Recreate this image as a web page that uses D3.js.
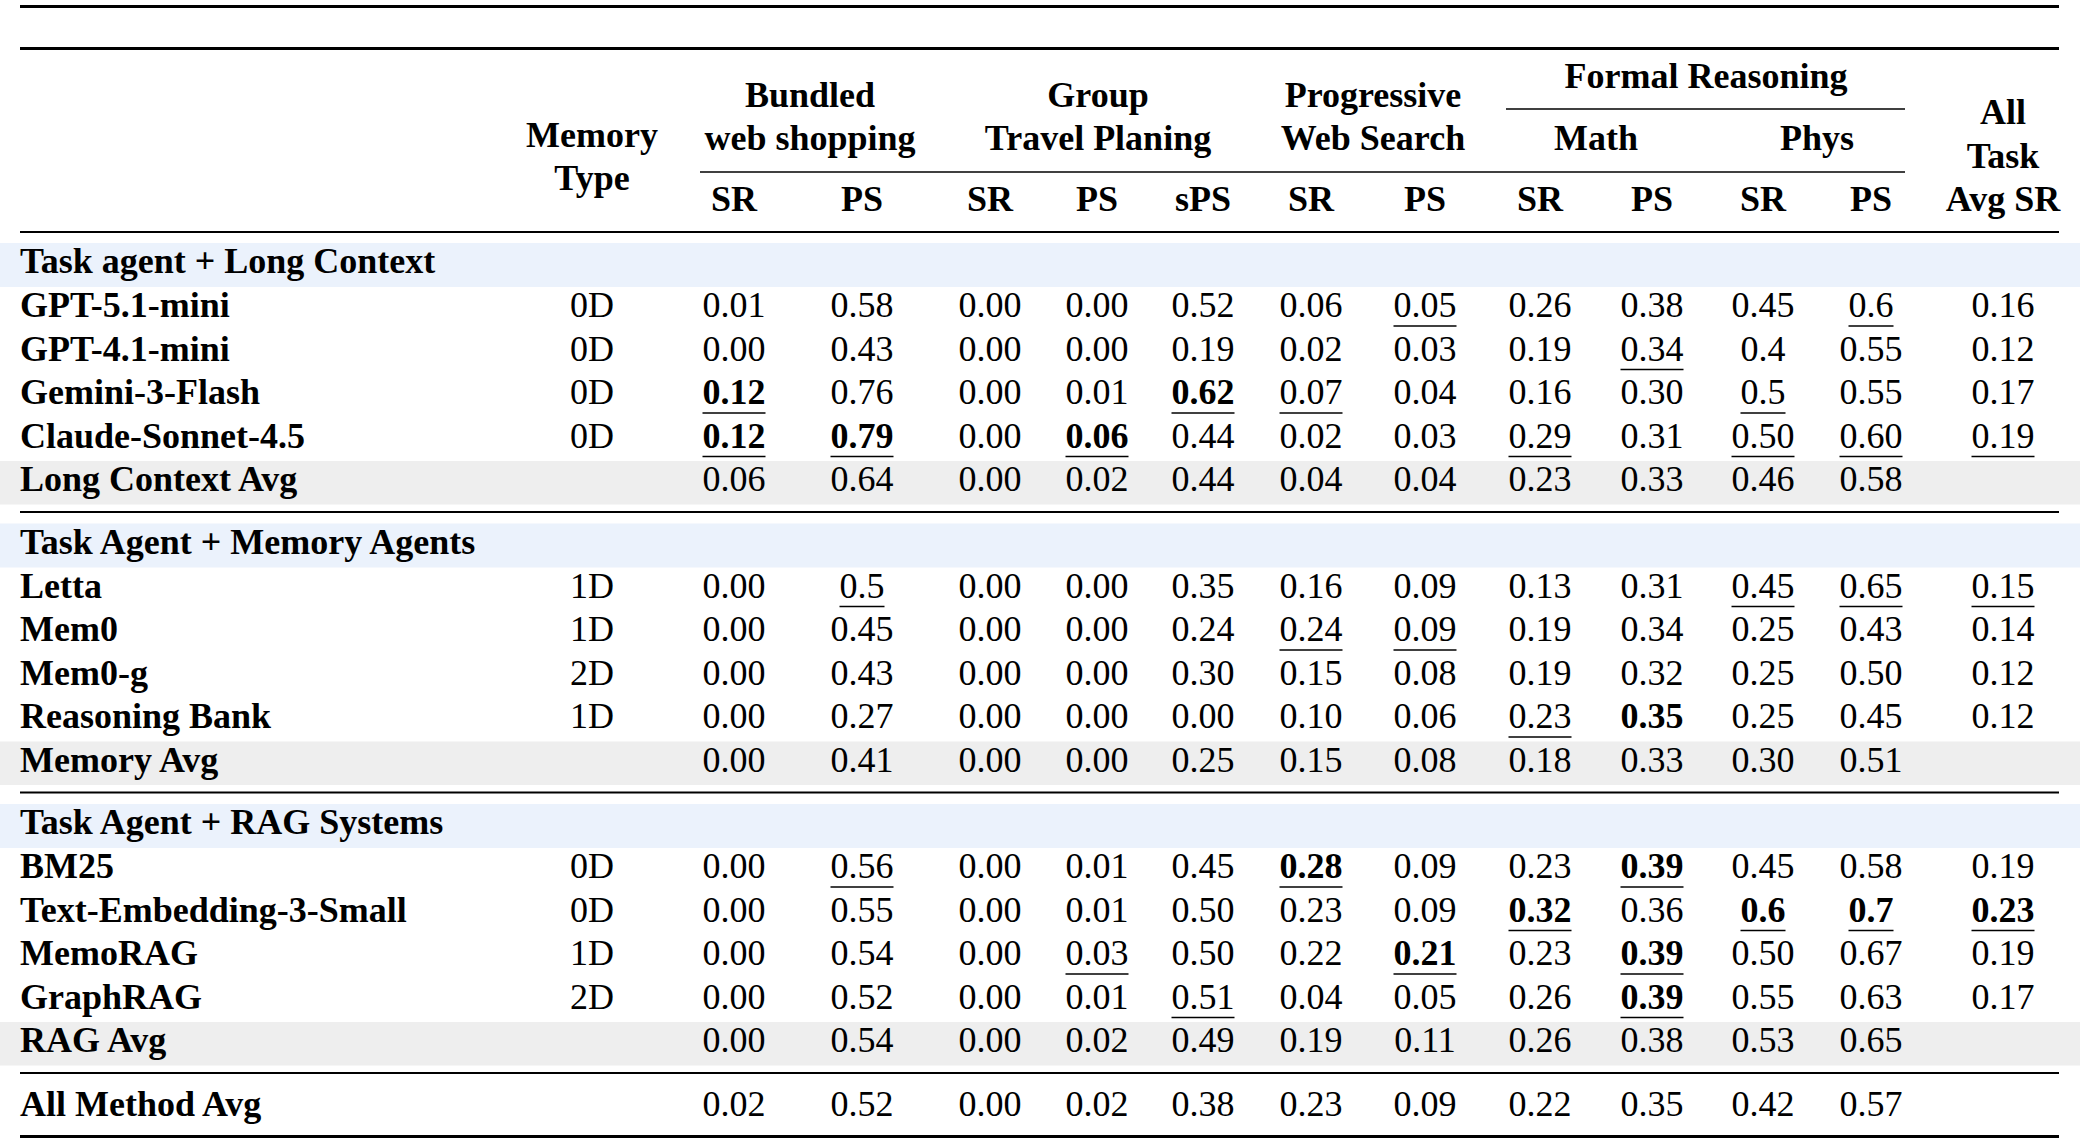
<!DOCTYPE html>
<html><head><meta charset="utf-8">
<script src="https://cdn.jsdelivr.net/npm/d3@7"></script>
<style>
html,body{margin:0;padding:0;background:#fff;}
svg{display:block;}
text{font-family:"Liberation Serif","Times New Roman",serif;font-size:36px;fill:#000;}
</style></head>
<body>
<svg id="c" width="2080" height="1141"></svg>
<script>
// ---------- data ----------
const columns = ["bw_sr","bw_ps","gt_sr","gt_ps","gt_sps","ws_sr","ws_ps","m_sr","m_ps","p_sr","p_ps","all_sr"];
const subHeaders = ["SR","PS","SR","PS","sPS","SR","PS","SR","PS","SR","PS"];
const sections = ["Task agent + Long Context","Task Agent + Memory Agents","Task Agent + RAG Systems"];

const longContextMethods = ["GPT-5.1-mini","GPT-4.1-mini","Gemini-3-Flash","Claude-Sonnet-4.5"];
const longContextTypes = ["0D","0D","0D","0D"];
const longContextValues = [
  ["0.01","0.58","0.00","0.00","0.52","0.06","0.05","0.26","0.38","0.45","0.6","0.16"],
  ["0.00","0.43","0.00","0.00","0.19","0.02","0.03","0.19","0.34","0.4","0.55","0.12"],
  ["0.12","0.76","0.00","0.01","0.62","0.07","0.04","0.16","0.30","0.5","0.55","0.17"],
  ["0.12","0.79","0.00","0.06","0.44","0.02","0.03","0.29","0.31","0.50","0.60","0.19"]
];
const longContextAvg = ["0.06","0.64","0.00","0.02","0.44","0.04","0.04","0.23","0.33","0.46","0.58",""];

const memoryMethods = ["Letta","Mem0","Mem0-g","Reasoning Bank"];
const memoryTypes = ["1D","1D","2D","1D"];
const memoryValues = [
  ["0.00","0.5","0.00","0.00","0.35","0.16","0.09","0.13","0.31","0.45","0.65","0.15"],
  ["0.00","0.45","0.00","0.00","0.24","0.24","0.09","0.19","0.34","0.25","0.43","0.14"],
  ["0.00","0.43","0.00","0.00","0.30","0.15","0.08","0.19","0.32","0.25","0.50","0.12"],
  ["0.00","0.27","0.00","0.00","0.00","0.10","0.06","0.23","0.35","0.25","0.45","0.12"]
];
const memoryAvg = ["0.00","0.41","0.00","0.00","0.25","0.15","0.08","0.18","0.33","0.30","0.51",""];

const ragMethods = ["BM25","Text-Embedding-3-Small","MemoRAG","GraphRAG"];
const ragTypes = ["0D","0D","1D","2D"];
const ragValues = [
  ["0.00","0.56","0.00","0.01","0.45","0.28","0.09","0.23","0.39","0.45","0.58","0.19"],
  ["0.00","0.55","0.00","0.01","0.50","0.23","0.09","0.32","0.36","0.6","0.7","0.23"],
  ["0.00","0.54","0.00","0.03","0.50","0.22","0.21","0.23","0.39","0.50","0.67","0.19"],
  ["0.00","0.52","0.00","0.01","0.51","0.04","0.05","0.26","0.39","0.55","0.63","0.17"]
];
const ragAvg = ["0.00","0.54","0.00","0.02","0.49","0.19","0.11","0.26","0.38","0.53","0.65",""];

const allMethodAvg = ["0.02","0.52","0.00","0.02","0.38","0.23","0.09","0.22","0.35","0.42","0.57",""];
const avgLabels = ["Long Context Avg","Memory Avg","RAG Avg"];

// emphasis: "b" bold, "u" underline, "bu" both  [section, row, column index]
const emphasis = [
  [0,0,6,"u"],[0,0,10,"u"],
  [0,1,8,"u"],
  [0,2,0,"bu"],[0,2,4,"bu"],[0,2,5,"u"],[0,2,9,"u"],
  [0,3,0,"bu"],[0,3,1,"bu"],[0,3,3,"bu"],[0,3,7,"u"],[0,3,9,"u"],[0,3,10,"u"],[0,3,11,"u"],
  [1,0,1,"u"],[1,0,9,"u"],[1,0,10,"u"],[1,0,11,"u"],
  [1,1,5,"u"],[1,1,6,"u"],
  [1,3,7,"u"],[1,3,8,"b"],
  [2,0,1,"u"],[2,0,5,"bu"],[2,0,8,"bu"],
  [2,1,7,"bu"],[2,1,9,"bu"],[2,1,10,"bu"],[2,1,11,"bu"],
  [2,2,3,"u"],[2,2,6,"bu"],[2,2,8,"bu"],
  [2,3,4,"u"],[2,3,8,"bu"]
];

// ---------- scales ----------
const W = 2080, H = 1141;
const svg = d3.select("#c");
const x = d3.scaleOrdinal().domain(columns)
  .range([734,862,990,1097,1203,1311,1425,1540,1652,1763,1871,2003]);
const xLabel = 20, xType = 592;
const ruleL = 20, ruleR = 2059;
const secTop = d3.scaleLinear().domain([0,1]).range([243,523.5]);
const rowY = d3.scaleLinear().domain([0,1]).range([74,117.5]); // baseline offset within section

const methods = [longContextMethods, memoryMethods, ragMethods];
const types = [longContextTypes, memoryTypes, ragTypes];
const values = [longContextValues, memoryValues, ragValues];
const avgs = [longContextAvg, memoryAvg, ragAvg];

function rule(y, w){ svg.append("line").attr("x1",ruleL).attr("x2",ruleR).attr("y1",y).attr("y2",y).attr("stroke","#000").attr("stroke-width",w); }
function txt(xx, y, s, bold, anchor){
  return svg.append("text").attr("x",xx).attr("y",y).attr("text-anchor",anchor||"middle")
    .attr("font-weight",bold?"bold":"normal").text(s);
}

// ---------- header ----------
rule(6.5,3.2);
rule(48.5,3);
rule(232,2);
svg.append("line").attr("x1",700).attr("x2",1905).attr("y1",172).attr("y2",172).attr("stroke","#000").attr("stroke-width",1.4);
svg.append("line").attr("x1",1506).attr("x2",1905).attr("y1",109).attr("y2",109).attr("stroke","#000").attr("stroke-width",1.4);

txt(xType,147,"Memory",true); txt(xType,190,"Type",true);
const bwC = (x("bw_sr")+x("bw_ps"))/2+12;
txt(bwC,107,"Bundled",true); txt(bwC,150,"web shopping",true);
const gtC = x("gt_ps")+1;
txt(gtC,107,"Group",true); txt(gtC,150,"Travel Planing",true);
const wsC = (x("ws_sr")+x("ws_ps"))/2+5;
txt(wsC,107,"Progressive",true); txt(wsC,150,"Web Search",true);
txt(1706,88,"Formal Reasoning",true);
txt((x("m_sr")+x("m_ps"))/2,150,"Math",true);
txt((x("p_sr")+x("p_ps"))/2,150,"Phys",true);
txt(x("all_sr"),124,"All",true); txt(x("all_sr"),168,"Task",true); txt(x("all_sr"),211,"Avg SR",true);
subHeaders.forEach((s,i)=> txt(x(columns[i]),211,s,true));

// ---------- body ----------
const emph = new Map(emphasis.map(e=>[e[0]+"-"+e[1]+"-"+e[2], e[3]]));

function valueRow(y, vals, key){
  vals.forEach((v,i)=>{
    if(v==="") return;
    const e = key!==null ? emph.get(key+"-"+i) : undefined;
    const bold = e && e.includes("b");
    const t = txt(x(columns[i]), y, v, bold);
    if(e && e.includes("u")){
      const bb = t.node().getBBox();
      svg.append("line").attr("x1",bb.x).attr("x2",bb.x+bb.width)
        .attr("y1",y+9).attr("y2",y+9).attr("stroke","#000").attr("stroke-width",1.6);
    }
  });
}

sections.forEach((name,s)=>{
  const T = secTop(s);
  svg.insert("rect",":first-child").attr("x",0).attr("y",T).attr("width",W).attr("height",44).attr("fill","#EBF2FC");
  txt(xLabel,T+30,name,true,"start");
  methods[s].forEach((m,r)=>{
    const y = T + rowY(r);
    txt(xLabel,y,m,true,"start");
    txt(xType,y,types[s][r],false);
    valueRow(y, values[s][r], s+"-"+r);
  });
  const ya = T + rowY(4);
  svg.insert("rect",":first-child").attr("x",0).attr("y",ya-30).attr("width",W).attr("height",43.5).attr("fill","#EEEEEE");
  txt(xLabel,ya,avgLabels[s],true,"start");
  valueRow(ya, avgs[s], null);
  rule(T+269,2);
});

txt(xLabel,1116,"All Method Avg",true,"start");
valueRow(1116, allMethodAvg, null);
rule(1136.5,3);
</script>
</body></html>
